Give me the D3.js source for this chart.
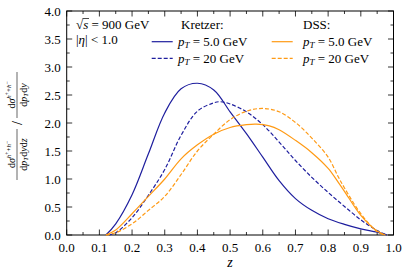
<!DOCTYPE html>
<html><head><meta charset="utf-8">
<script src="https://cdn.jsdelivr.net/npm/d3@7"></script>
<style>
html,body{margin:0;padding:0;background:#fff;}
text{font-family:"Liberation Serif","Times New Roman",serif;fill:#000;}
</style></head>
<body><svg id="c" width="407" height="273"></svg>
<script>
const xTicks=[0.0,0.1,0.2,0.3,0.4,0.5,0.6,0.7,0.8,0.9,1.0];
const yTicks=[0.0,0.5,1.0,1.5,2.0,2.5,3.0,3.5,4.0];

const kretzer5Z=[0.12,0.15,0.20,0.25,0.30,0.35,0.40,0.45,0.50,0.55,0.60,0.65,0.70,0.75,0.80,0.85,0.90,0.95,0.98];
const kretzer5V=[0,0.20,0.72,1.45,2.18,2.61,2.71,2.59,2.20,1.81,1.39,0.97,0.65,0.44,0.29,0.19,0.11,0.05,0];

const kretzer20Z=[0.13,0.15,0.20,0.25,0.30,0.35,0.40,0.45,0.47,0.50,0.55,0.60,0.65,0.70,0.75,0.80,0.85,0.90,0.95,0.98];
const kretzer20V=[0,0.04,0.31,0.71,1.17,1.78,2.21,2.36,2.38,2.34,2.20,1.97,1.66,1.33,1.03,0.76,0.51,0.27,0.08,0];

const dss5Z=[0.12,0.15,0.20,0.25,0.30,0.35,0.40,0.45,0.50,0.55,0.58,0.62,0.65,0.70,0.75,0.80,0.83,0.85,0.90,0.95,0.975];
const dss5V=[0,0.09,0.38,0.69,1.00,1.36,1.61,1.80,1.92,1.97,1.98,1.95,1.88,1.69,1.47,1.19,0.95,0.78,0.35,0.07,0];

const dss20Z=[0.12,0.15,0.20,0.25,0.30,0.35,0.40,0.45,0.50,0.55,0.60,0.65,0.70,0.75,0.80,0.83,0.85,0.90,0.95,0.975];
const dss20V=[0,0.04,0.20,0.44,0.69,1.08,1.50,1.80,2.06,2.21,2.26,2.20,2.01,1.73,1.39,1.05,0.84,0.38,0.06,0];

const BLUE="#1e1e9e", ORANGE="#ff9a14";
const svg=d3.select("#c");
const L=66.7,R=393.5,T=11,B=235;
const x=d3.scaleLinear().domain([0,1]).range([L,R]);
const y=d3.scaleLinear().domain([0,4]).range([B,T]);

const minorX=d3.range(0,1.0001,0.05), minorY=d3.range(0,4.0001,0.25);
const tk=svg.append("g").attr("stroke","#000").attr("stroke-width",0.8);
minorX.forEach(v=>{
  const major=Math.abs(v*10-Math.round(v*10))<1e-6; const len=major?5.5:3;
  tk.append("line").attr("x1",x(v)).attr("x2",x(v)).attr("y1",B).attr("y2",B-len);
  tk.append("line").attr("x1",x(v)).attr("x2",x(v)).attr("y1",T).attr("y2",T+len);
});
minorY.forEach(v=>{
  const major=Math.abs(v*2-Math.round(v*2))<1e-6; const len=major?5.5:3;
  tk.append("line").attr("y1",y(v)).attr("y2",y(v)).attr("x1",L).attr("x2",L+len);
  tk.append("line").attr("y1",y(v)).attr("y2",y(v)).attr("x1",R).attr("x2",R-len);
});
svg.append("rect").attr("x",L).attr("y",T).attr("width",R-L).attr("height",B-T)
  .attr("fill","none").attr("stroke","#000").attr("stroke-width",1);

const fmt=d3.format(".1f");
svg.append("g").selectAll("text").data(xTicks).join("text")
  .attr("x",d=>x(d)).attr("y",B+17).attr("text-anchor","middle").attr("font-size",13).text(fmt);
svg.append("g").selectAll("text").data(yTicks).join("text")
  .attr("x",L-6).attr("y",d=>y(d)+4.5).attr("text-anchor","end").attr("font-size",13).text(fmt);

svg.append("text").attr("x",x(0.5)).attr("y",267).attr("text-anchor","middle")
  .attr("font-size",14).attr("font-style","italic").text("z");

const line=d3.line().x(d=>x(d[0])).y(d=>y(d[1])).curve(d3.curveCatmullRom.alpha(0.5));
const series=[
  [kretzer5Z,kretzer5V,BLUE,null],
  [kretzer20Z,kretzer20V,BLUE,"4,2"],
  [dss5Z,dss5V,ORANGE,null],
  [dss20Z,dss20V,ORANGE,"4,2"]];
series.forEach(([zs,vs,c,da])=>{
  svg.append("path").datum(zs.map((z,i)=>[z,vs[i]])).attr("d",line)
    .attr("fill","none").attr("stroke",c).attr("stroke-width",1.2)
    .attr("stroke-dasharray",da);
});

const ann=svg.append("g");
ann.append("text").attr("x",76).attr("y",29).attr("font-size",13)
  .html('√<tspan font-style="italic">s</tspan> = 900 GeV');
ann.append("line").attr("x1",82.5).attr("x2",89).attr("y1",18.5).attr("y2",18.5).attr("stroke","#000").attr("stroke-width",0.7);
ann.append("text").attr("x",76).attr("y",44).attr("font-size",13)
  .html('|<tspan font-style="italic">η</tspan>| &lt; 1.0');

const lg=svg.append("g");
lg.append("text").attr("x",181).attr("y",29).attr("font-size",13).text("Kretzer:");
lg.append("text").attr("x",303).attr("y",29).attr("font-size",13).text("DSS:");
const rows=[[151.7,41.7,BLUE,null,178,"5.0"],[151.7,58.3,BLUE,"4,2",178,"20"],
            [271.7,41.7,ORANGE,null,303,"5.0"],[271.7,58.3,ORANGE,"4,2",303,"20"]];
rows.forEach(([lx,ly,c,da,tx,val])=>{
  lg.append("line").attr("x1",lx).attr("x2",lx+21).attr("y1",ly).attr("y2",ly)
    .attr("stroke",c).attr("stroke-width",1.2).attr("stroke-dasharray",da);
  lg.append("text").attr("x",tx).attr("y",ly+4.5).attr("font-size",13)
    .html('<tspan font-style="italic">p</tspan><tspan font-style="italic" font-size="9" dy="2">T</tspan><tspan dy="-2"> = '+val+' GeV</tspan>');
});

const yl=svg.append("g").attr("transform","translate(17,180) rotate(-90)");
function frac(g,x0,num,den,w){
  g.append("line").attr("x1",x0).attr("x2",x0+w).attr("y1",0).attr("y2",0).attr("stroke","#000").attr("stroke-width",0.6);
  g.append("text").attr("x",x0+w/2).attr("y",-2.5).attr("text-anchor","middle").attr("font-size",10).html(num);
  g.append("text").attr("x",x0+w/2).attr("y",9.5).attr("text-anchor","middle").attr("font-size",10).html(den);
}
const sig='d<tspan font-style="italic">σ</tspan><tspan font-size="7" dy="-4"><tspan font-style="italic">h</tspan><tspan font-size="5.5" dy="-1.5">+</tspan><tspan dy="1.5">+</tspan><tspan font-style="italic">h</tspan><tspan font-size="5.5" dy="-1.5">−</tspan></tspan>';
frac(yl,0,sig,'d<tspan font-style="italic">p</tspan><tspan font-style="italic" font-size="7" dy="1.5">T</tspan><tspan dy="-1.5">d</tspan><tspan font-style="italic">y</tspan>d<tspan font-style="italic">z</tspan>',51);
yl.append("text").attr("x",55).attr("y",5).attr("font-size",14).text("/");
frac(yl,62,sig,'d<tspan font-style="italic">p</tspan><tspan font-style="italic" font-size="7" dy="1.5">T</tspan><tspan dy="-1.5">d</tspan><tspan font-style="italic">y</tspan>',46);
</script></body></html>
